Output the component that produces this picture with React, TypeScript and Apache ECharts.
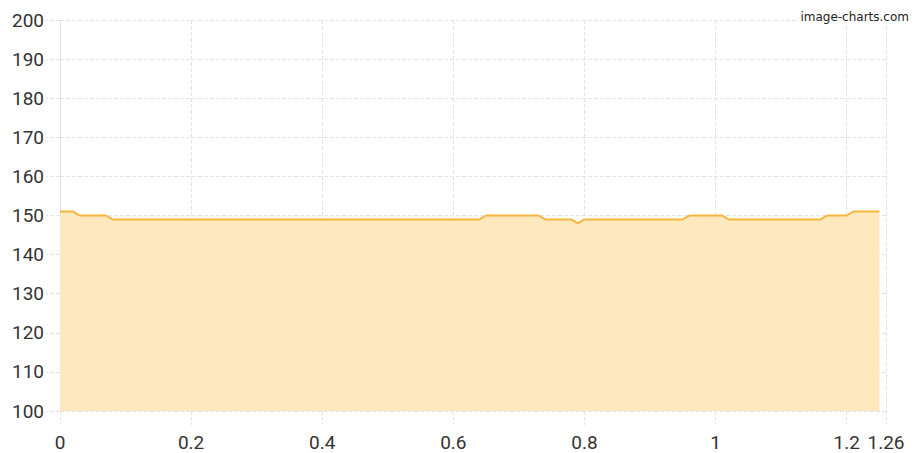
import React, { useEffect, useRef } from "react";
import * as echarts from "echarts";

const xValues = [0, 0.02, 0.03, 0.07, 0.08, 0.64, 0.65, 0.73, 0.74, 0.78, 0.79, 0.8, 0.95, 0.96, 1.01, 1.02, 1.16, 1.17, 1.2, 1.21, 1.25];
const yValues = [151, 151, 150, 150, 149, 149, 150, 150, 149, 149, 148, 149, 149, 150, 150, 149, 149, 150, 150, 151, 151];
const xAxisRange = { min: 0, max: 1.26, interval: 0.2 };
const yAxisRange = { min: 100, max: 200, interval: 10 };
const watermark = "image-charts.com";

export default function App() {
  const ref = useRef<HTMLDivElement>(null);
  useEffect(() => {
    document.body.style.margin = "0";
    const chart = echarts.init(ref.current!, null, { renderer: "svg" });
    const grid = "#e4e4e4";
    const labelStyle = { color: "#333", fontSize: 19, fontFamily: "Roboto" };
    chart.setOption({
      animation: false,
      grid: { left: 60, right: 37, top: 20, bottom: 42, containLabel: false },
      xAxis: {
        type: "value",
        ...xAxisRange,
        axisLine: { show: false },
        axisTick: { show: true, length: 14, lineStyle: { color: grid, type: "dashed" } },
        splitLine: { show: true, lineStyle: { color: grid, type: "dashed" } },
        axisLabel: { ...labelStyle, margin: 22 },
      },
      yAxis: {
        type: "value",
        ...yAxisRange,
        axisLine: { show: true, lineStyle: { color: "#e0e0e0" } },
        axisTick: { show: true, length: 14, lineStyle: { color: grid, type: "dashed" } },
        splitLine: { show: true, lineStyle: { color: grid, type: "dashed" } },
        axisLabel: { ...labelStyle, margin: 16 },
      },
      series: [
        {
          type: "line",
          data: xValues.map((x, i) => [x, yValues[i]]),
          showSymbol: false,
          lineStyle: { color: "#f6b53c", width: 2 },
          itemStyle: { color: "#f6b53c" },
          areaStyle: { color: "#fee9be", opacity: 1, origin: "start" },
        },
      ],
      graphic: [
        {
          type: "text",
          right: 12,
          top: 10,
          z: 100,
          style: {
            text: watermark,
            fill: "#222",
            font: "12px 'DejaVu Sans'",
            backgroundColor: "#fff",
            padding: [1, 2],
          },
        },
      ],
    });
    return () => chart.dispose();
  }, []);
  return <div ref={ref} style={{ width: 923, height: 453 }} />;
}
